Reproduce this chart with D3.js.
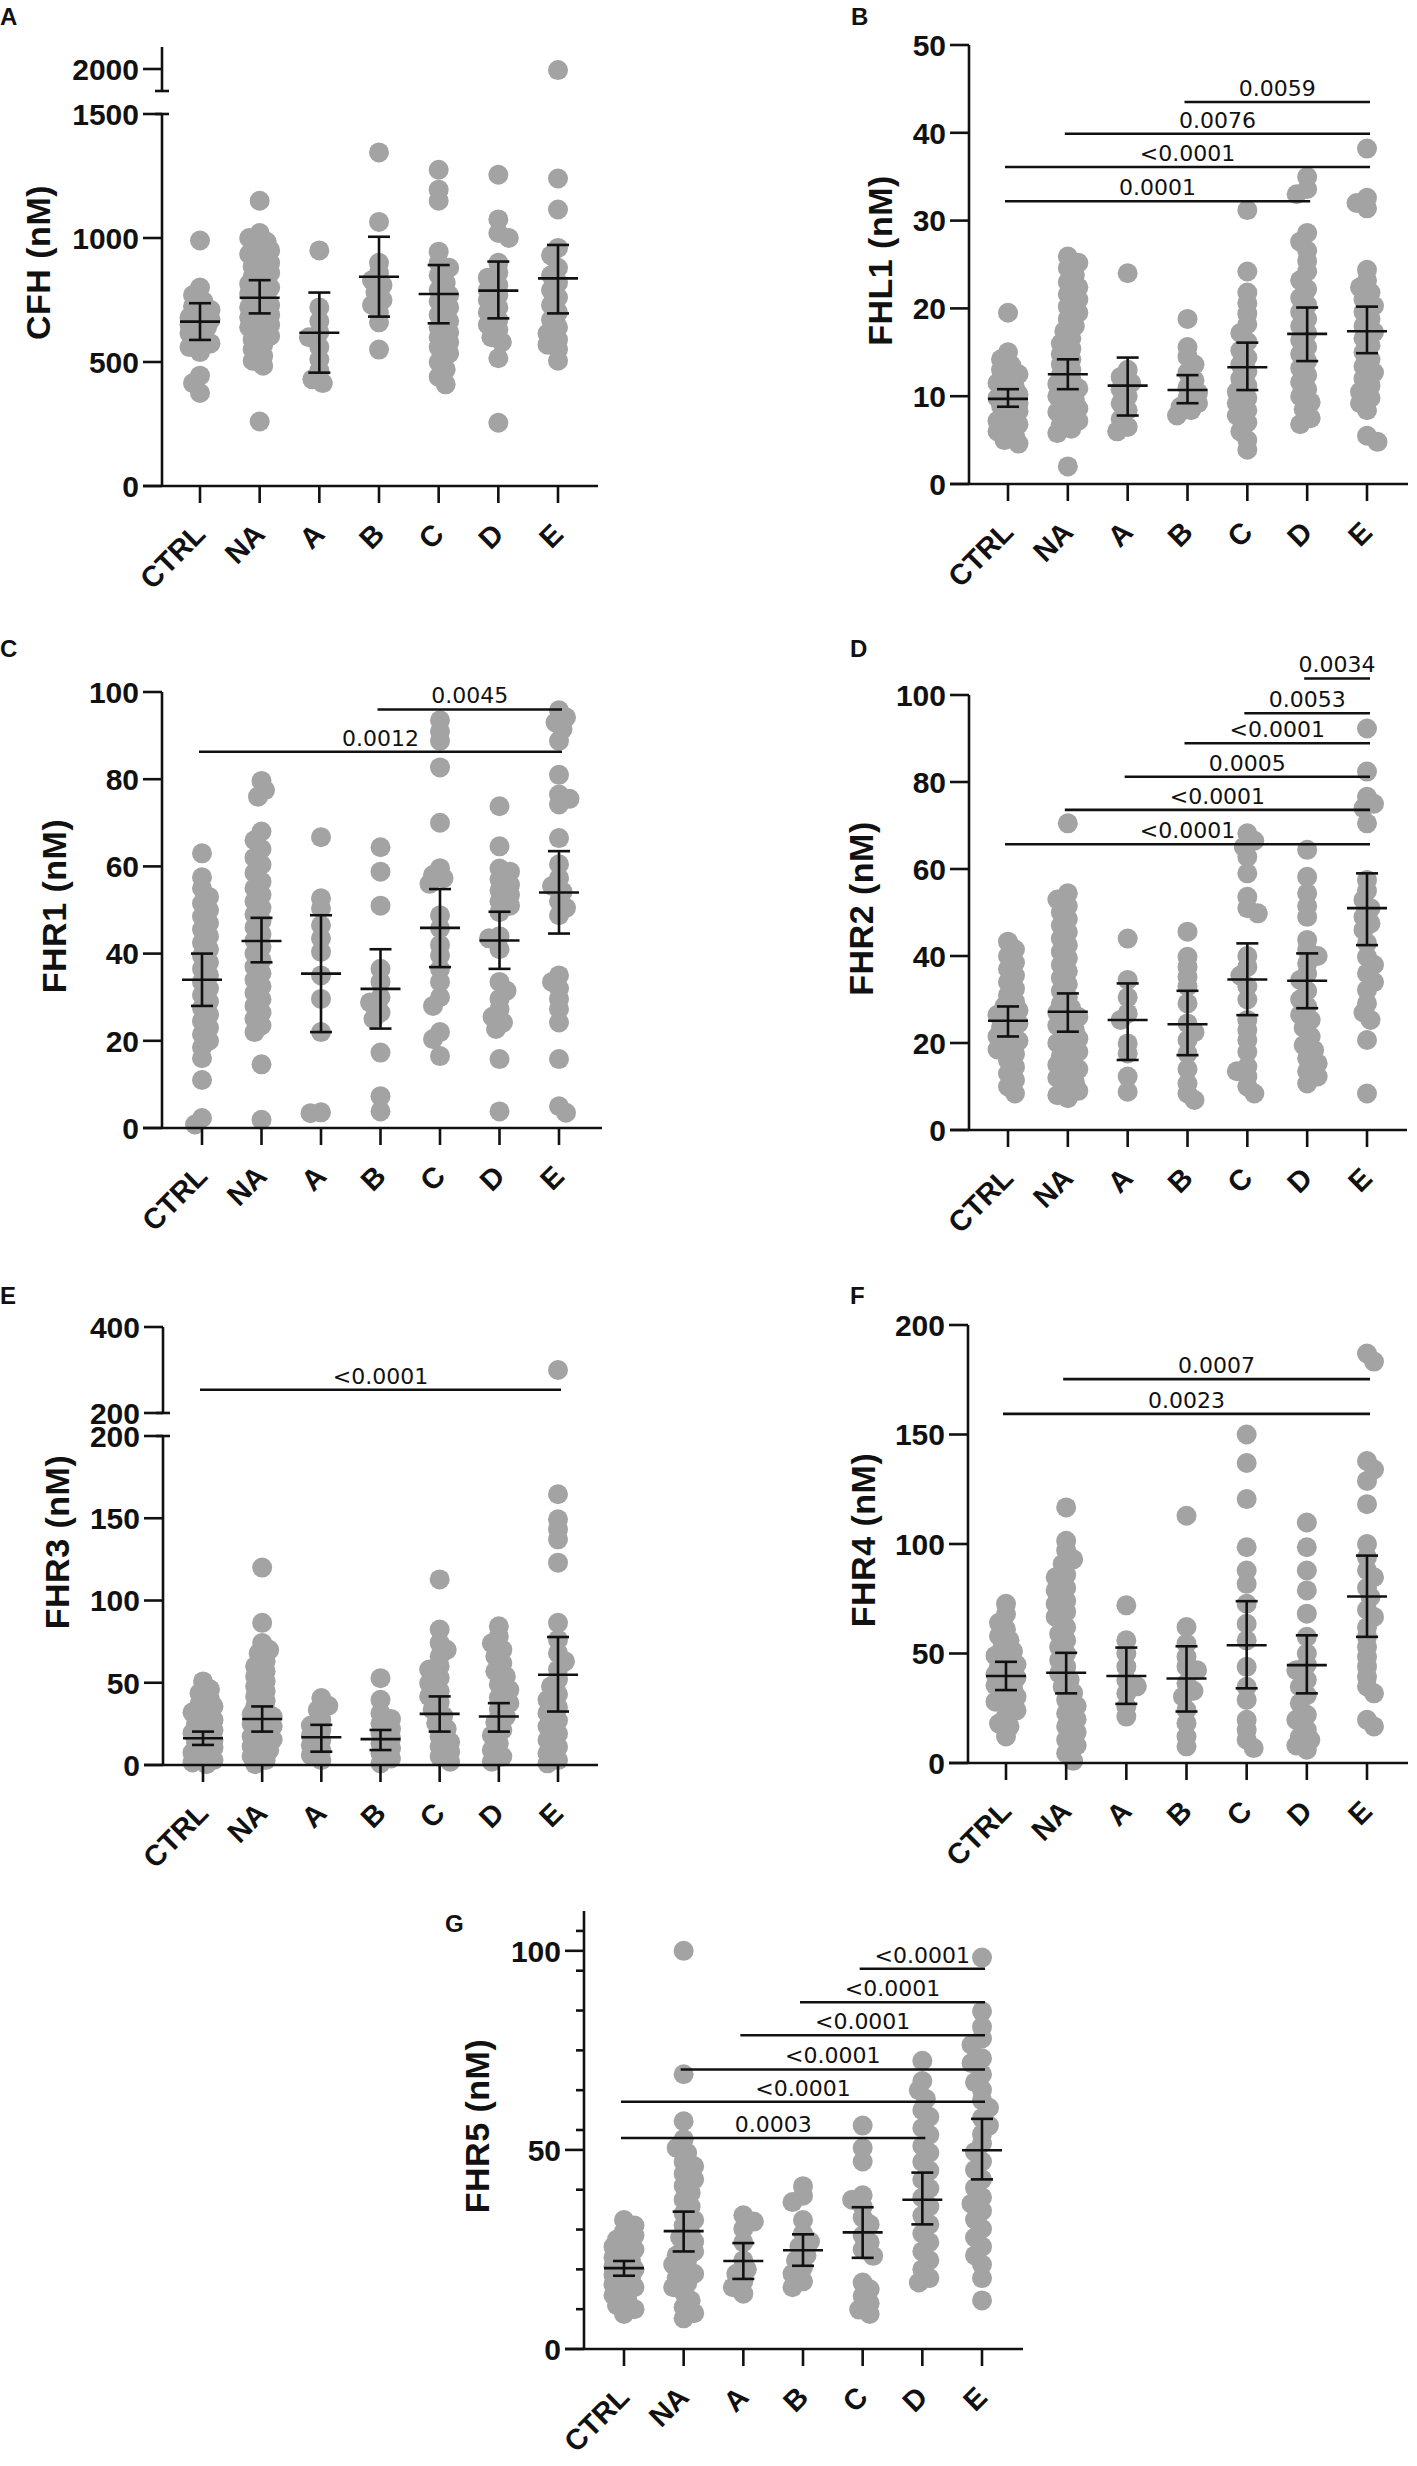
<!DOCTYPE html>
<html>
<head>
<meta charset="utf-8">
<script src="https://cdn.jsdelivr.net/npm/d3@7"></script>
<style>
  body { margin: 0; background: #fff; }
  svg { display: block; }
</style>
</head>
<body>
<div id="chart"></div>
<script>
const categories = ['CTRL', 'NA', 'A', 'B', 'C', 'D', 'E'];

// A - CFH
const cfhValues = [
  [990, 800, 770, 745, 725, 710, 695, 680, 670, 660, 650, 640, 630, 615, 600, 590, 575, 560, 540, 445, 415, 375],
  [1150, 1020, 1000, 985, 965, 950, 935, 915, 900, 885, 870, 860, 845, 830, 815, 800, 790, 775, 760, 745, 730, 720, 705, 690, 680, 665, 650, 640, 620, 605, 590, 570, 550, 525, 505, 485, 260],
  [950, 720, 665, 620, 600, 560, 510, 465, 430, 415],
  [1345, 1065, 900, 860, 830, 810, 780, 750, 730, 700, 660, 550],
  [1275, 1195, 1150, 945, 900, 880, 850, 820, 790, 770, 745, 720, 690, 665, 640, 620, 600, 580, 560, 535, 500, 470, 440, 410],
  [1255, 1075, 1020, 1000, 900, 860, 840, 810, 790, 770, 750, 720, 700, 670, 650, 630, 600, 580, 515, 255],
  [1995, 1240, 1115, 960, 930, 880, 850, 820, 790, 760, 730, 700, 670, 640, 615, 590, 570, 550, 505]
];
const cfhMean = [663, 759, 618, 844, 774, 788, 837];
const cfhCiLow = [589, 696, 457, 683, 656, 676, 696];
const cfhCiHigh = [737, 830, 780, 1005, 891, 905, 972];
const cfhTicks = [0, 500, 1000, 1500];
const cfhUpperTicks = [2000];
const cfhComparisons = [];

// B - FHL1
const fhl1Values = [
  [19.5, 15, 14.2, 13.5, 13, 12.5, 12, 11.5, 11, 10.6, 10.2, 9.8, 9.5, 9.2, 8.9, 8.6, 8.3, 8, 7.6, 7.2, 6.8, 6.4, 6, 5.5, 5, 4.6],
  [25.9, 25.2, 24.6, 23.8, 23, 22.4, 21.6, 21, 20.2, 19.5, 18.8, 18, 17.4, 16.6, 16, 15.4, 14.8, 14.2, 13.6, 13, 12.4, 11.9, 11.4, 10.9, 10.4, 10, 9.6, 9.1, 8.6, 8.2, 7.7, 7.2, 6.8, 6.3, 5.8, 2],
  [24, 13, 12.2, 11.5, 10.8, 10, 9.2, 8.4, 7.4, 6.5, 6],
  [18.8, 15.6, 14.5, 13.6, 12.7, 11.8, 11, 10.4, 9.8, 9.2, 8.8, 8.4, 7.8],
  [31.2, 24.2, 21.8, 20.6, 19.4, 18.2, 17.2, 16.2, 15.2, 14.4, 13.6, 12.8, 12, 11.2, 10.5, 9.8, 9.2, 8.4, 7.8, 7, 6, 5, 3.9],
  [35, 33.6, 33, 28.6, 27.6, 26.6, 25.4, 24.2, 23.2, 22.2, 21.2, 20.4, 19.6, 18.8, 18, 17.2, 16.4, 15.6, 14.8, 14, 13.2, 12.4, 11.6, 10.8, 10, 9.3, 8.5, 7.5, 6.8],
  [38.2, 32.6, 32, 31.4, 24.4, 23.2, 22.4, 21.8, 21, 20.3, 19.6, 18.8, 18, 17.3, 16.6, 15.8, 15, 14.2, 13.4, 12.7, 12, 11.2, 10.5, 9.8, 9.2, 8.4, 5.5, 4.8]
];
const fhl1Mean = [9.7, 12.5, 11.2, 10.7, 13.3, 17.1, 17.4];
const fhl1CiLow = [8.8, 10.8, 7.8, 9.2, 10.7, 14, 14.9];
const fhl1CiHigh = [10.8, 14.2, 14.4, 12.4, 16.1, 20.1, 20.2];
const fhl1Ticks = [0, 10, 20, 30, 40, 50];
const fhl1Comparisons = [
  ['B', 'E', 43.5, '0.0059'],
  ['NA', 'E', 39.9, '0.0076'],
  ['CTRL', 'E', 36.1, '<0.0001'],
  ['CTRL', 'D', 32.2, '0.0001']
];

// C - FHR1
const fhr1Values = [
  [63, 57.5, 55, 53, 51.5, 50, 48.5, 47, 45.5, 44, 42.5, 41, 39.5, 38, 36.5, 35, 33.5, 32, 30.5, 29, 27.5, 26, 24.5, 23, 21.5, 20, 18.5, 16, 11, 2.3, 0.8],
  [79.6, 77.5, 76, 68, 66, 64, 62, 60.4, 58.5, 56.5, 55, 53.5, 52, 50.5, 49, 47.5, 46, 44.5, 43, 41.5, 40, 38.5, 37, 35.5, 34, 32.5, 31, 29.5, 28, 26.5, 25, 23.5, 22, 14.6, 1.9],
  [66.7, 52.7, 50.4, 46.5, 43.5, 40.4, 35, 29.6, 22, 3.6, 3.4],
  [64.4, 58.8, 51, 36.5, 33.5, 30, 28.8, 26.5, 25, 17.3, 7.3, 3.8],
  [93.5, 91, 88.8, 82.7, 70, 59.6, 58, 57.3, 56, 48.8, 45.8, 42, 39.6, 36.5, 33.5, 30, 28, 22, 20.4, 16.5],
  [73.8, 64.6, 59.5, 58.8, 57, 55.8, 54.5, 53.5, 52, 51, 49.5, 44, 43.5, 41, 33.5, 31.5, 29.6, 27.3, 25.5, 24.2, 22.7, 15.8, 3.8],
  [95.8, 94.2, 93, 91.5, 88.8, 81, 76.5, 75.5, 74.2, 66.5, 60.5, 57.3, 55.5, 54.2, 52, 50.5, 48.8, 35, 33.5, 32, 29.6, 27.3, 24.2, 15.8, 5, 3.5]
];
const fhr1Mean = [34, 42.9, 35.4, 31.9, 45.9, 43, 54];
const fhr1CiLow = [28, 38, 22, 22.8, 36.9, 36.5, 44.6];
const fhr1CiHigh = [40, 48.2, 48.8, 41, 54.8, 49.6, 63.5];
const fhr1Ticks = [0, 20, 40, 60, 80, 100];
const fhr1Comparisons = [
  ['B', 'E', 96, '0.0045'],
  ['CTRL', 'E', 86.3, '0.0012']
];

// D - FHR2
const fhr2Values = [
  [43.3, 41.5, 40, 38.5, 37, 35.5, 34, 32.5, 31, 29.5, 28.5, 27.5, 26.5, 25.5, 24.5, 23.5, 22.5, 21.5, 20.5, 19.5, 18.5, 17.5, 16, 14.5, 13, 11.5, 10, 8.4],
  [70.5, 54.4, 53, 51.5, 50, 48.5, 47, 45.5, 44, 42.5, 41, 39.5, 38, 36.5, 35, 33.5, 32, 30.5, 29, 28, 27, 26, 25, 24, 23, 22, 21, 20, 19, 18, 17, 16, 15, 14, 13, 12, 11, 10, 9, 8, 7.3],
  [44, 34.5, 30.5, 26.8, 25.3, 19.9, 17.6, 12.3, 8.8],
  [45.6, 39.8, 37.5, 35.2, 33, 29.1, 24.5, 22.5, 20.7, 17.6, 14, 10.7, 8.4, 6.9],
  [68.2, 66.5, 65.1, 62.8, 59, 53.6, 51, 49.8, 40, 37.5, 35.5, 33, 30, 25.3, 23, 20.7, 18, 14.6, 13.5, 12.3, 10, 8.4],
  [64.4, 58.2, 54.4, 51.5, 49, 43.7, 41.4, 40, 38.3, 36, 34.5, 32, 30, 28.4, 26.5, 25.3, 23.5, 21.5, 19.5, 18.4, 16.5, 15.3, 13.5, 12.3, 10.7],
  [92.3, 82.4, 76.6, 75, 74, 70.5, 57.5, 55, 52.9, 51, 49, 47.5, 46, 43, 39.8, 38, 36, 34, 32.2, 29.1, 27, 25.3, 20.7, 8.4]
];
const fhr2Mean = [25.1, 27.2, 25.3, 24.3, 34.6, 34.3, 51];
const fhr2CiLow = [21.5, 22.6, 16.1, 17.2, 26.4, 28, 42.5];
const fhr2CiHigh = [28.4, 31.4, 33.7, 32, 42.9, 40.6, 59];
const fhr2Ticks = [0, 20, 40, 60, 80, 100];
const fhr2Comparisons = [
  ['D', 'E', 103.8, '0.0034'],
  ['C', 'E', 95.8, '0.0053'],
  ['B', 'E', 88.9, '<0.0001'],
  ['A', 'E', 81.2, '0.0005'],
  ['NA', 'E', 73.6, '<0.0001'],
  ['CTRL', 'E', 65.7, '<0.0001']
];

// E - FHR3
const fhr3Values = [
  [50.8, 46, 43.7, 40, 37, 35.6, 32, 29.5, 27.4, 25, 23, 21.3, 19.5, 17.5, 15.2, 13.5, 12, 10.5, 9.1, 7.5, 6, 4.5, 3, 1.5, 0.5],
  [120, 86.4, 74.2, 70, 68, 63, 60, 57, 53.9, 51, 47.8, 45, 41.7, 39, 35.6, 33, 31, 29.5, 27, 25, 23.4, 21.5, 19.5, 17.3, 15.5, 13.5, 11.2, 9, 7, 5.1, 3, 0.5],
  [40.7, 36, 33.5, 27.4, 24, 21.3, 18, 15.2, 12, 9.1, 6, 3],
  [52.8, 39.6, 31.5, 28, 25.4, 22, 19.3, 16, 13.2, 10, 7.1, 4, 1],
  [112.8, 82.3, 74.2, 70, 66, 60, 58, 53, 49.8, 45, 41.7, 38, 33.5, 30, 25.4, 22, 17.3, 14, 11.2, 8, 5.1, 2],
  [84.3, 78.3, 74, 70.1, 66, 62, 57, 53.9, 49, 45.7, 41, 37.6, 34, 29.5, 26, 21.3, 18, 13.2, 9, 5.1, 2],
  [300, 164.6, 149.4, 143.3, 137.2, 123, 86.4, 76.2, 68, 63, 58, 52, 47.8, 43, 39.6, 35, 31.5, 27, 23.4, 19, 15.2, 11, 7.1, 3, 1]
];
const fhr3Mean = [16.3, 28, 16.9, 15.7, 31.1, 29.5, 54.9];
const fhr3CiLow = [12.2, 20.3, 8.1, 9.1, 20.3, 20.3, 32.5];
const fhr3CiHigh = [20.3, 35.6, 24.4, 21.3, 41.7, 37.6, 77.8];
const fhr3Ticks = [0, 50, 100, 150, 200];
const fhr3UpperTicks = [200, 400];
const fhr3Comparisons = [
  ['CTRL', 'E', 254, '<0.0001']
];

// F - FHR4
const fhr4Values = [
  [72.7, 68, 64, 61, 58, 56, 53, 51, 49, 47, 45, 43.9, 42, 40.5, 39, 37, 35.5, 34, 32, 30.3, 28, 26, 24, 21.2, 18, 16.7, 12.1],
  [116.7, 101.5, 97, 93, 90.9, 86, 84.8, 80, 78.8, 74, 72.7, 69, 66.7, 62, 59, 56, 53, 50, 47, 44, 40.9, 38, 34.8, 32, 28.8, 26, 22.7, 20, 16.7, 14, 10.6, 8, 4.5, 1],
  [72, 56, 50, 44, 37.9, 35, 31.8, 25.8, 21.2],
  [112.9, 62.1, 54.5, 48.5, 44, 42.4, 36.4, 33, 30.3, 24.2, 18.2, 12.1, 7.6],
  [150, 137, 120.5, 98.5, 87.9, 81.8, 72.7, 63.6, 56, 43.9, 34.8, 28.8, 19.7, 15.2, 10.6, 6.8],
  [109.8, 98.5, 87.9, 78.8, 68.2, 57.6, 50, 45, 42.4, 38, 34.8, 31, 27.3, 22, 19.7, 15.2, 12, 10.6, 8, 6.1],
  [187, 183.3, 137.9, 134, 128.8, 118.2, 100, 93.9, 88, 84.8, 80, 75.8, 70, 66.7, 62, 57.6, 53, 48.5, 44, 39.4, 35, 31.8, 19.7, 16.7]
];
const fhr4Mean = [39.7, 41.2, 39.7, 38.6, 53.8, 44.7, 76];
const fhr4CiLow = [33.3, 31.8, 27, 23.5, 34.1, 31.8, 57.6];
const fhr4CiHigh = [46.2, 50.3, 52.7, 53.3, 73.9, 58.3, 94.7];
const fhr4Ticks = [0, 50, 100, 150, 200];
const fhr4Comparisons = [
  ['NA', 'E', 175.3, '0.0007'],
  ['CTRL', 'E', 159.4, '0.0023']
];

// G - FHR5
const fhr5Values = [
  [32.4, 31, 29.5, 28.5, 27.5, 26.5, 25.7, 25, 24, 23, 22.3, 21.5, 20.8, 20, 19.3, 18.6, 17.8, 17, 16.2, 15.5, 14.5, 13.5, 12.2, 11, 10, 8.8],
  [100, 69, 57.2, 52.7, 50.5, 49.3, 47, 45.9, 44, 42.6, 41, 39.2, 37.5, 35.8, 34, 32.4, 31, 29, 28, 27, 25.7, 24.5, 23.5, 22.3, 21.2, 20, 18.9, 17.8, 16.5, 15.5, 14.2, 12.2, 10.5, 9, 7.7],
  [33.6, 32, 30.2, 26.8, 22.3, 20, 18.9, 17, 15.5, 13.9],
  [40.9, 38.5, 36.9, 32.4, 29, 27, 25.7, 23.5, 22.3, 20.5, 18.9, 17, 15.5],
  [56.1, 50.5, 47.1, 38.6, 37.5, 35.8, 33, 31.3, 28.5, 26.8, 25, 23.4, 16.7, 15, 13.3, 11.5, 9.9, 8.8],
  [72.4, 67.3, 65, 62.8, 60, 58.3, 55.5, 53.8, 51, 49.3, 47, 44.8, 42.5, 40.3, 38, 35.8, 33.5, 31.3, 29, 26.8, 24.5, 22.3, 20, 17.8, 16.7],
  [98.3, 84.8, 80.9, 78, 76.4, 73, 71.8, 69, 67, 65.1, 62.5, 60.6, 58, 56.1, 54, 51.6, 49.5, 47.1, 45, 42.6, 40.5, 38.1, 36.5, 34.7, 32.5, 30.2, 28, 25.7, 23.5, 21.2, 17.8, 12.2]
];
const fhr5Mean = [20.3, 29.6, 22.1, 24.8, 29.3, 37.5, 49.9];
const fhr5CiLow = [18.4, 24.5, 17.6, 20.9, 22.9, 31.3, 42.6];
const fhr5CiHigh = [22.1, 34.5, 26.6, 28.8, 35.6, 44.3, 57.8];
const fhr5Ticks = [0, 50, 100];
const fhr5MinorTicks = [10, 20, 30, 40, 55, 65, 75, 85, 95, 105];
const fhr5Comparisons = [
  ['C', 'E', 95.5, '<0.0001'],
  ['B', 'E', 87.1, '<0.0001'],
  ['A', 'E', 78.8, '<0.0001'],
  ['NA', 'E', 70.2, '<0.0001'],
  ['CTRL', 'E', 62.1, '<0.0001'],
  ['CTRL', 'D', 53, '0.0003']
];

// layout of each panel (pixels)
const panels = [
  { letter: 'A', title: 'CFH (nM)', values: cfhValues, mean: cfhMean, lo: cfhCiLow, hi: cfhCiHigh,
    ticks: cfhTicks, upperTicks: cfhUpperTicks, comps: cfhComparisons,
    axisX: 162, x0: 200, x1: 558, xEnd: 598,
    lower: [[0, 1500], [486, 114]], upper: [[1900, 2100], [91, 47]],
    titleX: 38, letterAt: [0, 25] },
  { letter: 'B', title: 'FHL1 (nM)', values: fhl1Values, mean: fhl1Mean, lo: fhl1CiLow, hi: fhl1CiHigh,
    ticks: fhl1Ticks, comps: fhl1Comparisons,
    axisX: 969, x0: 1008, x1: 1367, xEnd: 1408,
    lower: [[0, 50], [484, 45]],
    titleX: 880, letterAt: [851, 25] },
  { letter: 'C', title: 'FHR1 (nM)', values: fhr1Values, mean: fhr1Mean, lo: fhr1CiLow, hi: fhr1CiHigh,
    ticks: fhr1Ticks, comps: fhr1Comparisons,
    axisX: 162, x0: 202, x1: 559, xEnd: 602,
    lower: [[0, 100], [1128, 692]],
    titleX: 54, letterAt: [0, 657] },
  { letter: 'D', title: 'FHR2 (nM)', values: fhr2Values, mean: fhr2Mean, lo: fhr2CiLow, hi: fhr2CiHigh,
    ticks: fhr2Ticks, comps: fhr2Comparisons,
    axisX: 969, x0: 1008, x1: 1367, xEnd: 1407,
    lower: [[0, 100], [1130, 695]],
    titleX: 861, letterAt: [850, 657] },
  { letter: 'E', title: 'FHR3 (nM)', values: fhr3Values, mean: fhr3Mean, lo: fhr3CiLow, hi: fhr3CiHigh,
    ticks: fhr3Ticks, upperTicks: fhr3UpperTicks, comps: fhr3Comparisons,
    axisX: 163, x0: 203, x1: 558, xEnd: 598,
    lower: [[0, 200], [1765, 1436]], upper: [[200, 400], [1413, 1327]],
    titleX: 57, letterAt: [0, 1304] },
  { letter: 'F', title: 'FHR4 (nM)', values: fhr4Values, mean: fhr4Mean, lo: fhr4CiLow, hi: fhr4CiHigh,
    ticks: fhr4Ticks, comps: fhr4Comparisons,
    axisX: 968, x0: 1006, x1: 1367, xEnd: 1408,
    lower: [[0, 200], [1763, 1325]],
    titleX: 863, letterAt: [850, 1304] },
  { letter: 'G', title: 'FHR5 (nM)', values: fhr5Values, mean: fhr5Mean, lo: fhr5CiLow, hi: fhr5CiHigh,
    ticks: fhr5Ticks, minorTicks: fhr5MinorTicks, comps: fhr5Comparisons,
    axisX: 584, x0: 624, x1: 982, xEnd: 1023,
    lower: [[0, 110], [2349, 1911]],
    titleX: 477, letterAt: [445, 1932] }
];

const DOT_R = 10;
const DOT_FILL = '#a3a3a3';
const STROKE = 2.6;
const TICK = 19;
const SANS = '"Liberation Sans", Arial, sans-serif';

const svg = d3.select('#chart').append('svg')
  .attr('width', 1417)
  .attr('height', 2466);
svg.append('rect').attr('width', 1417).attr('height', 2466).attr('fill', '#fff');

// simple beeswarm: spread overlapping dots sideways
function swarm(vals, y) {
  const pts = vals.map(v => ({ v, y: y(v) })).sort((a, b) => a.y - b.y);
  const placed = [];
  const step = 3.5, minD = 9.5, maxOff = 11;
  pts.forEach(p => {
    let best = 0, bestScore = -1, done = false;
    for (let k = 0; k * step <= maxOff && !done; k++) {
      const offs = k === 0 ? [0] : (placed.length % 2 ? [k * step, -k * step] : [-k * step, k * step]);
      for (const dx of offs) {
        const md = placed.length ? d3.min(placed, q => Math.hypot(q.dx - dx, q.y - p.y)) : Infinity;
        if (md >= minD) { p.dx = dx; done = true; break; }
        if (md > bestScore) { bestScore = md; best = dx; }
      }
    }
    if (!done) p.dx = best;
    placed.push(p);
  });
  return pts;
}

panels.forEach(p => {
  const g = svg.append('g');
  const axisY = p.lower[1][0];
  const axisTop = p.upper ? p.upper[1][1] : p.lower[1][1];

  const x = d3.scalePoint().domain(categories).range([p.x0, p.x1]);
  const yLow = d3.scaleLinear().domain(p.lower[0]).range(p.lower[1]);
  const yUp = p.upper ? d3.scaleLinear().domain(p.upper[0]).range(p.upper[1]) : null;
  const y = v => (yUp && v > p.lower[0][1]) ? yUp(v) : yLow(v);

  // dots
  categories.forEach((c, i) => {
    const pts = swarm(p.values[i], y);
    g.append('g').selectAll('circle')
      .data(pts)
      .join('circle')
      .attr('cx', d => x(c) + d.dx)
      .attr('cy', d => d.y)
      .attr('r', DOT_R)
      .attr('fill', DOT_FILL);
  });

  // mean with 95% CI
  const eb = g.append('g').attr('stroke', '#111').attr('stroke-width', STROKE).attr('fill', 'none');
  categories.forEach((c, i) => {
    const cx = x(c);
    eb.append('line').attr('x1', cx).attr('x2', cx).attr('y1', y(p.lo[i])).attr('y2', y(p.hi[i]));
    eb.append('line').attr('x1', cx - 20).attr('x2', cx + 20).attr('y1', y(p.mean[i])).attr('y2', y(p.mean[i]));
    eb.append('line').attr('x1', cx - 11).attr('x2', cx + 11).attr('y1', y(p.lo[i])).attr('y2', y(p.lo[i]));
    eb.append('line').attr('x1', cx - 11).attr('x2', cx + 11).attr('y1', y(p.hi[i])).attr('y2', y(p.hi[i]));
  });

  // axes
  const ax = g.append('g').attr('stroke', '#111').attr('stroke-width', STROKE).attr('fill', 'none');
  ax.append('line').attr('x1', p.axisX).attr('x2', p.axisX).attr('y1', axisY).attr('y2', p.lower[1][1]);
  if (p.upper) {
    ax.append('line').attr('x1', p.axisX).attr('x2', p.axisX).attr('y1', p.upper[1][0]).attr('y2', p.upper[1][1]);
    [p.upper[1][0], p.lower[1][1]].forEach(by => {
      ax.append('line').attr('x1', p.axisX - 7).attr('x2', p.axisX + 7).attr('y1', by).attr('y2', by);
    });
  }
  ax.append('line').attr('x1', p.axisX - TICK).attr('x2', p.xEnd).attr('y1', axisY).attr('y2', axisY);

  const yTicks = p.ticks.map(v => ({ v, py: yLow(v) }))
    .concat((p.upperTicks || []).map(v => ({ v, py: yUp(v) })));
  yTicks.forEach(t => {
    ax.append('line').attr('x1', p.axisX - TICK).attr('x2', p.axisX).attr('y1', t.py).attr('y2', t.py);
  });
  (p.minorTicks || []).forEach(v => {
    ax.append('line').attr('x1', p.axisX - 8).attr('x2', p.axisX).attr('y1', yLow(v)).attr('y2', yLow(v));
  });
  categories.forEach(c => {
    ax.append('line').attr('x1', x(c)).attr('x2', x(c)).attr('y1', axisY).attr('y2', axisY + 17);
  });

  g.append('g').selectAll('text')
    .data(yTicks)
    .join('text')
    .attr('x', p.axisX - TICK - 4)
    .attr('y', d => d.py)
    .attr('dy', '0.36em')
    .attr('text-anchor', 'end')
    .attr('font-family', SANS)
    .attr('font-weight', 'bold')
    .attr('font-size', 30)
    .attr('fill', '#111')
    .text(d => d.v);

  g.append('g').selectAll('text')
    .data(categories)
    .join('text')
    .attr('transform', d => `translate(${x(d) + 7},${axisY + 50}) rotate(-45)`)
    .attr('text-anchor', 'end')
    .attr('font-family', SANS)
    .attr('font-weight', 'bold')
    .attr('font-size', 29)
    .attr('fill', '#111')
    .text(d => d);

  // axis title
  g.append('text')
    .attr('transform', `translate(${p.titleX},${(axisY + axisTop) / 2 - 4}) rotate(-90)`)
    .attr('text-anchor', 'middle')
    .attr('dy', '0.36em')
    .attr('font-family', SANS)
    .attr('font-weight', 'bold')
    .attr('font-size', 34)
    .attr('letter-spacing', 0.5)
    .attr('fill', '#111')
    .text(p.title);

  // panel letter
  g.append('text')
    .attr('x', p.letterAt[0])
    .attr('y', p.letterAt[1])
    .attr('font-family', SANS)
    .attr('font-weight', 'bold')
    .attr('font-size', 24)
    .attr('fill', '#111')
    .text(p.letter);

  // significance brackets
  const sig = g.append('g');
  p.comps.forEach(([from, to, v, label]) => {
    const yy = y(v);
    sig.append('line')
      .attr('x1', x(from) - 3).attr('x2', x(to) + 3)
      .attr('y1', yy).attr('y2', yy)
      .attr('stroke', '#111').attr('stroke-width', STROKE);
    sig.append('text')
      .attr('x', (x(from) + x(to)) / 2)
      .attr('y', yy - 6)
      .attr('text-anchor', 'middle')
      .attr('font-family', '"DejaVu Sans", Verdana, sans-serif')
      .attr('font-size', 22)
      .attr('fill', '#111')
      .text(label);
  });
});
</script>
</body>
</html>
